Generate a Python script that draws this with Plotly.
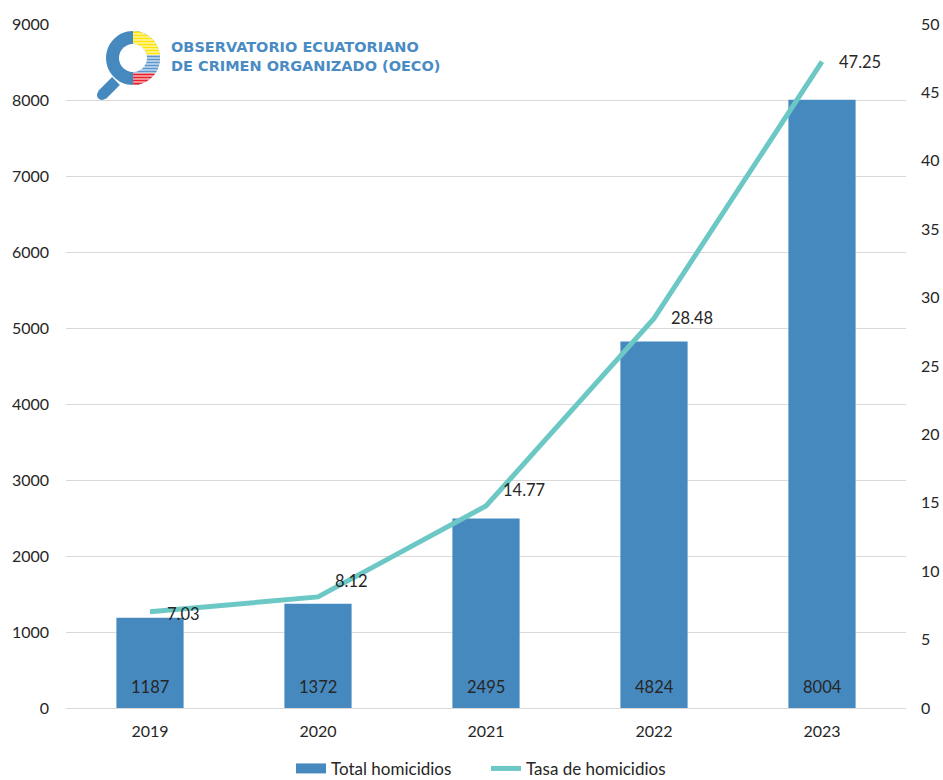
import math
import plotly.graph_objects as go

years = ["2019", "2020", "2021", "2022", "2023"]
total_homicidios = [1187, 1372, 2495, 4824, 8004]
tasa_homicidios = [7.03, 8.12, 14.77, 28.48, 47.25]
rate_label_yshift = [-2, 16, 16, 0, 0]

BAR = "#4689BF"
LINE = "#6CC8C4"
FONT = "Lato"
TXT = "#262626"

fig = go.Figure()
fig.add_trace(go.Bar(
    x=years, y=total_homicidios, name="Total homicidios", showlegend=False,
    marker=dict(color=BAR, line=dict(width=0)),
))
# legend-only entry imitating the wide bar swatch
fig.add_trace(go.Scatter(
    x=[years[0]], y=[None], name="Total homicidios", mode="lines",
    line=dict(color=BAR, width=10), showlegend=True,
))
fig.add_trace(go.Scatter(
    x=years, y=tasa_homicidios, name="Tasa de homicidios", yaxis="y2",
    mode="lines", line=dict(color=LINE, width=5),
))

# bar value labels, at the base of each bar
for i, v in enumerate(total_homicidios):
    fig.add_annotation(x=i, y=0, xref="x", yref="y", text=str(v), showarrow=False,
                       xanchor="center", yanchor="bottom", yshift=9,
                       font=dict(family=FONT, size=16.5, color=TXT))

# rate labels, right of each point
for i, (v, dy) in enumerate(zip(tasa_homicidios, rate_label_yshift)):
    fig.add_annotation(x=i, y=v, xref="x", yref="y2", text=f"{v:.2f}", showarrow=False,
                       xanchor="left", yanchor="middle", xshift=15, yshift=dy,
                       font=dict(family=FONT, size=16.5, color=TXT))

# Logo (decorative) drawn in pixel units relative to top-left of plot area
shapes = []
cx, cy = 67, -34  # pixel offsets (y up)
ro, ri = 27, 14

def circle_path(r, n=60):
    pts = [(cx + r * math.cos(2 * math.pi * k / n), cy + r * math.sin(2 * math.pi * k / n)) for k in range(n)]
    return "M " + " L ".join(f"{x:.2f},{y:.2f}" for x, y in pts) + " Z"

common = dict(xref="paper", yref="paper", xsizemode="pixel", ysizemode="pixel", xanchor=0, yanchor=1)
shapes.append(dict(type="path", path="M 36,-71 L 50,-57", line=dict(color=BAR, width=11), **common))
shapes.append(dict(type="circle", x0=31, y0=-76, x1=41, y1=-66, fillcolor=BAR, line=dict(width=0), **common))
shapes.append(dict(type="path", path=circle_path(ro), fillcolor=BAR, line=dict(width=0), **common))

def strip(a, b, n=6):
    right, left = [], []
    for k in range(n + 1):
        yy = a + (b - a) * k / n
        xr = math.sqrt(max(ro * ro - yy * yy, 0))
        xl = math.sqrt(max(ri * ri - yy * yy, 0)) if abs(yy) < ri else 0.0
        right.append((cx + xr, cy - yy))
        left.append((cx + xl, cy - yy))
    pts = right + left[::-1]
    return "M " + " L ".join(f"{x:.2f},{y:.2f}" for x, y in pts) + " Z"

shapes.append(dict(type="path", path=strip(-27, 27, 30), fillcolor="white", line=dict(width=0), **common))
y0 = -26.5
while y0 < 26:
    mid = y0 + 1
    if mid < -3:
        col = "#FFE400"
    elif mid < 14:
        col = "#5B95CB"
    else:
        col = "#E8202A"
    shapes.append(dict(type="path", path=strip(y0, min(y0 + 2, 27)), fillcolor=col, line=dict(width=0), **common))
    y0 += 3
shapes.append(dict(type="path", path=circle_path(ri), fillcolor="white", line=dict(width=0), **common))

fig.add_annotation(xref="paper", yref="paper", x=0, y=1, xanchor="left", yanchor="top",
                   xshift=103, yshift=-13, align="left", showarrow=False,
                   text="<b>OBSERVATORIO ECUATORIANO<br>DE CRIMEN ORGANIZADO (OECO)</b>",
                   font=dict(family="DejaVu Sans", size=14.5, color="#4A8BC4"))

fig.update_layout(
    width=943, height=780,
    margin=dict(l=66, r=37, t=24, b=72, autoexpand=False),
    paper_bgcolor="white", plot_bgcolor="white",
    bargap=0.6,
    showlegend=True,
    legend=dict(orientation="h", x=0.5, xanchor="center", y=-0.089, yanchor="middle",
                font=dict(family=FONT, size=17, color=TXT),
                traceorder="normal", entrywidth=150, entrywidthmode="pixels"),
    font=dict(family=FONT, size=16, color=TXT),
    xaxis=dict(type="category", range=[-0.5, 4.5], autorange=False, showgrid=False,
               showline=False, ticks="", automargin=False, ticklabelstandoff=12,
               tickfont=dict(size=16, color=TXT)),
    yaxis=dict(range=[0, 9000], autorange=False, dtick=1000, showgrid=True, gridcolor="#D9D9D9", gridwidth=1,
               zeroline=True, zerolinecolor="#D9D9D9", zerolinewidth=1, automargin=False,
               showline=False, ticks="", tickfont=dict(size=16, color=TXT), ticklabelstandoff=16),
    yaxis2=dict(range=[0, 50], autorange=False, dtick=5, overlaying="y", side="right", showgrid=False,
                zeroline=False, showline=False, ticks="", automargin=False,
                tickfont=dict(size=16, color=TXT), ticklabelstandoff=14),
    shapes=shapes,
)

fig.write_html("out.html", config={"displayModeBar": False},
               post_script="document.body.style.margin='0';")
